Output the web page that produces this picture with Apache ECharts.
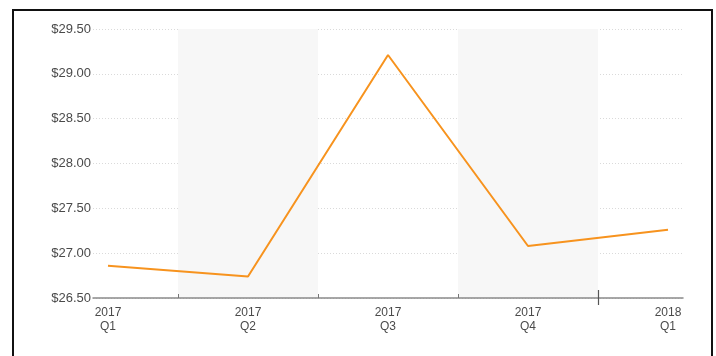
<!DOCTYPE html>
<html>
<head>
<meta charset="utf-8">
<script src="https://cdn.jsdelivr.net/npm/echarts@6/dist/echarts.min.js"></script>
<style>
  html, body { margin: 0; padding: 0; background: #fff; overflow: hidden; }
  #frame {
    position: absolute; left: 12px; top: 9px; width: 701px; height: 400px;
    border: 2px solid #111; box-sizing: border-box;
  }
  #chart { position: absolute; left: 0; top: 0; width: 716px; height: 356px; }
</style>
</head>
<body>
<div id="frame"></div>
<div id="chart"></div>
<script>
// Quarterly price series
const quarters = ['2017\nQ1', '2017\nQ2', '2017\nQ3', '2017\nQ4', '2018\nQ1'];
const prices = [26.86, 26.74, 29.21, 27.08, 27.26];
const yTicks = [26.5, 27.0, 27.5, 28.0, 28.5, 29.0, 29.5];
// alternating shaded quarters (indices of the shaded categories)
const shadedQuarters = [1, 3];
// boundary between the last quarter of one year and the first of the next
const yearBreaks = [3.5];

const chart = echarts.init(document.getElementById('chart'), null, { renderer: 'canvas' });

const points = prices.map((v, i) => [i, v]);
const bands = shadedQuarters.map(i => [{ xAxis: i - 0.5 }, { xAxis: i + 0.5 }]);
const quarterIdx = quarters.map((q, i) => i);
const boundaries = quarters.slice(1).map((q, i) => i + 0.5);

const X_MIN = -0.107, X_MAX = 4.107;
const font = 'Liberation Sans, Arial, sans-serif';

// overlay axes used only to draw the longer year-break tick
function breakAxis(inside, len) {
  return {
    type: 'value', min: X_MIN, max: X_MAX, position: 'bottom', z: 6,
    axisLine: { show: false },
    axisTick: { show: true, inside: inside, length: len, customValues: yearBreaks,
                lineStyle: { color: '#555', width: 1.2 } },
    axisLabel: { show: false },
    splitLine: { show: false }
  };
}

chart.setOption({
  animation: false,
  grid: { left: 93, right: 33, top: 29, bottom: 58, containLabel: false },
  xAxis: [{
    type: 'value',
    min: X_MIN,
    max: X_MAX,
    z: 5,
    axisLine: { show: true, lineStyle: { color: '#8a8a8a', width: 1.5 } },
    axisTick: {
      show: true, inside: true, length: 4,
      customValues: boundaries,
      lineStyle: { color: '#777', width: 1 }
    },
    splitLine: { show: false },
    axisLabel: {
      customValues: quarterIdx,
      formatter: v => quarters[Math.round(v)],
      color: '#4a4a4a',
      fontFamily: font,
      fontSize: 12,
      lineHeight: 14,
      margin: 8
    }
  }, breakAxis(true, 8), breakAxis(false, 7)],
  yAxis: {
    type: 'value',
    min: yTicks[0],
    max: yTicks[yTicks.length - 1],
    interval: 0.5,
    axisLine: { show: false },
    axisTick: { show: false },
    splitLine: { show: true, lineStyle: { color: '#dadada', type: [1, 2], width: 1 } },
    axisLabel: {
      formatter: v => '$' + v.toFixed(2),
      color: '#4a4a4a',
      fontFamily: font,
      fontSize: 13,
      margin: 2
    }
  },
  series: [{
    type: 'line',
    data: points,
    showSymbol: false,
    lineStyle: { color: '#f7931e', width: 2 },
    itemStyle: { color: '#f7931e' },
    z: 3,
    markArea: {
      silent: true,
      z: 1,
      itemStyle: { color: '#f7f7f7' },
      data: bands
    }
  }]
});
</script>
</body>
</html>
